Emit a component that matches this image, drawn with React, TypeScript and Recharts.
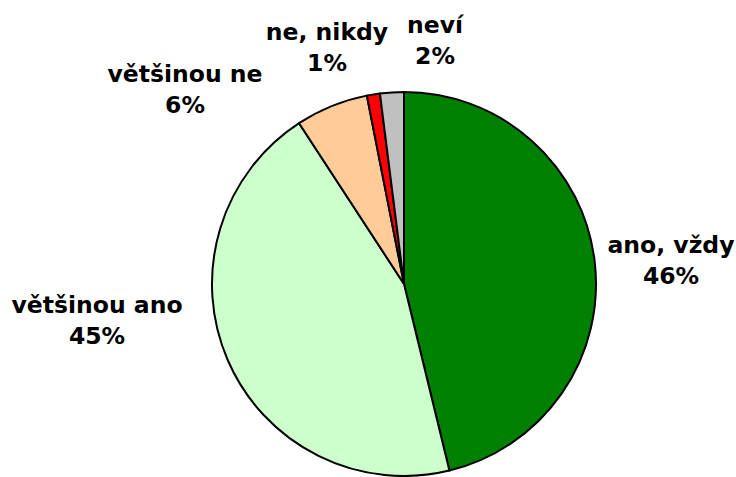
import React from 'react';
import { PieChart, Pie, Cell } from 'recharts';

const categories = ['ano, vždy', 'většinou ano', 'většinou ne', 'ne, nikdy', 'neví'];
const shares = [46.2, 44.6, 6.1, 1.1, 2.0];
const colors = ['#008000', '#CCFFCC', '#FFCC99', '#FF0000', '#C0C0C0'];

// label anchor (first line baseline) relative to the pie centre
const labelOffsets: [number, number][] = [
  [267, -31],
  [-307, 29],
  [-219, -202],
  [-77, -244],
  [31, -251],
];

const data = categories.map((name, i) => ({ name, value: shares[i] }));

const renderLabel = ({ cx, cy, index, value }: any) => {
  const [dx, dy] = labelOffsets[index];
  const x = cx + dx;
  const y = cy + dy;
  return (
    <text
      x={x}
      y={y}
      textAnchor="middle"
      fill="#000"
      fontFamily="DejaVu Sans, Verdana, sans-serif"
      fontWeight="bold"
      fontSize={23.5}
    >
      <tspan x={x} y={y}>{categories[index]}</tspan>
      <tspan x={x} y={y + 31}>{`${Math.round(value)}%`}</tspan>
    </text>
  );
};

export default function App() {
  return (
    <div style={{ position: 'absolute', left: 0, top: 0, width: 736, height: 477, background: '#fff' }}>
      <PieChart width={736} height={477} margin={{ top: 0, right: 0, bottom: 0, left: 0 }}>
        <Pie
          data={data}
          dataKey="value"
          cx={404}
          cy={284}
          outerRadius={192}
          startAngle={90}
          endAngle={-270}
          stroke="#000"
          strokeWidth={2}
          label={renderLabel}
          labelLine={false}
          isAnimationActive={false}
        >
          {data.map((d, i) => (
            <Cell key={d.name} fill={colors[i]} />
          ))}
        </Pie>
      </PieChart>
    </div>
  );
}
